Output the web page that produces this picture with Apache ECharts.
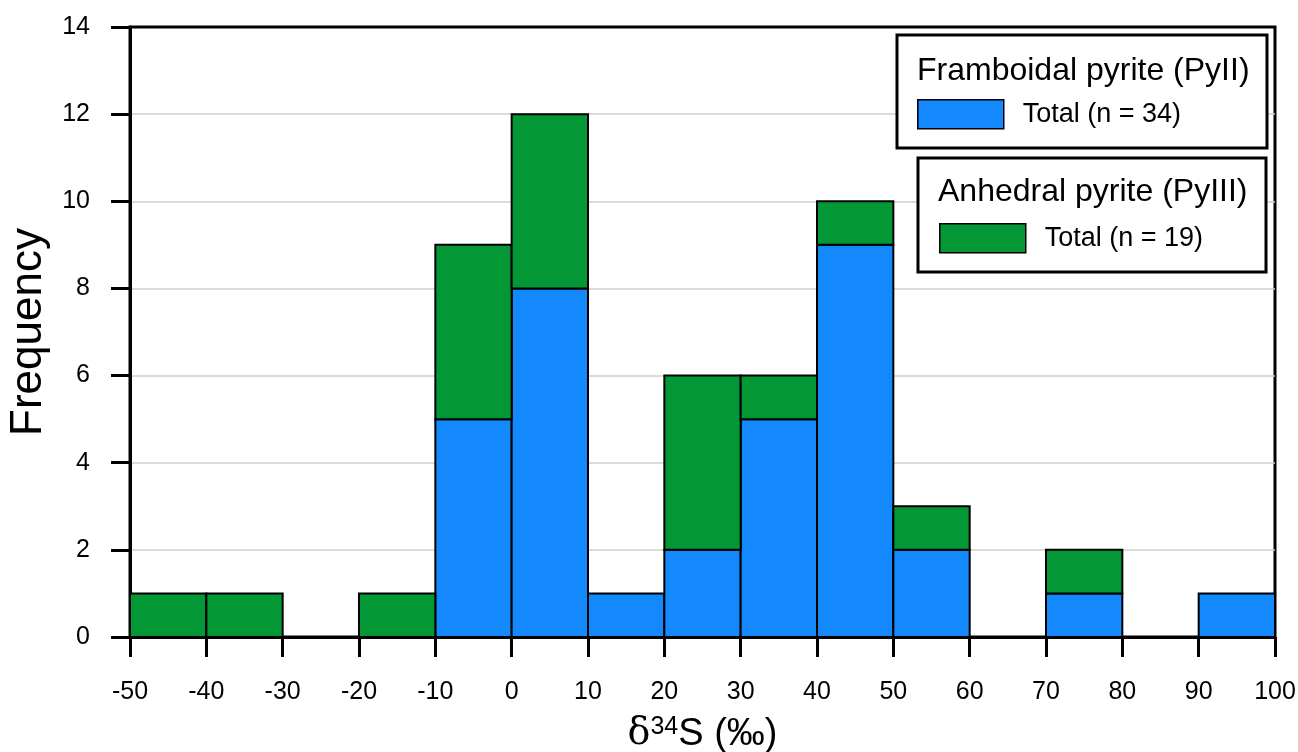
<!DOCTYPE html>
<html>
<head>
<meta charset="utf-8">
<script src="https://cdn.jsdelivr.net/npm/echarts@6/dist/echarts.min.js"></script>
<style>
  html, body { margin: 0; padding: 0; background: #fff; }
  #chart { width: 1298px; height: 752px; }
</style>
</head>
<body>
<div id="chart"></div>
<script>
// bin lower edges, bin width 10 ‰
const binStart = [-50, -40, -30, -20, -10, 0, 10, 20, 30, 40, 50, 60, 70, 80, 90]
const binWidth = 10
const framboidal = [0, 0, 0, 0, 5, 8, 1, 2, 5, 9, 2, 0, 1, 0, 1]   // PyII
const anhedral = [1, 1, 0, 1, 4, 4, 0, 4, 1, 1, 1, 0, 1, 0, 0]     // PyIII
const yTicks = [0, 2, 4, 6, 8, 10, 12, 14]

const blue = '#1488fd'
const green = '#049735'
const font = 'Liberation Sans, Arial, sans-serif'

// [x0, x1, base, top]
const pyIIData = binStart.map((x, i) => [x, x + binWidth, 0, framboidal[i]])
const pyIIIData = binStart.map((x, i) => [x, x + binWidth, framboidal[i], framboidal[i] + anhedral[i]])

function renderBin(params, api) {
  const x0 = api.value(0)
  const x1 = api.value(1)
  const b = api.value(2)
  const t = api.value(3)
  if (t <= b) return
  const p0 = api.coord([x0, t])
  const p1 = api.coord([x1, b])
  return {
    type: 'rect',
    shape: { x: p0[0], y: p0[1], width: p1[0] - p0[0], height: p1[1] - p0[1] },
    style: api.style({ stroke: '#000', lineWidth: 2 })
  }
}

const chart = echarts.init(document.getElementById('chart'))
chart.setOption({
  animation: false,
  textStyle: { fontFamily: font },
  grid: {
    left: 130, right: 23, top: 27, bottom: 115,
    containLabel: false,
    outerBoundsMode: 'none',
    show: true, borderColor: '#000', borderWidth: 3, backgroundColor: 'transparent'
  },
  xAxis: {
    type: 'value',
    min: -50, max: 100, interval: 10,
    axisLine: { show: true, onZero: false, lineStyle: { color: '#000', width: 3 } },
    axisTick: { show: true, length: 20, lineStyle: { color: '#000', width: 3 } },
    axisLabel: { color: '#000', fontSize: 25, margin: 43, fontFamily: font },
    splitLine: { show: false },
    name: '{d|δ}{sup|34}{s|S (‰)}',
    nameLocation: 'middle',
    nameGap: 78,
    nameTextStyle: {
      rich: {
        d: { fontSize: 38, fontFamily: 'DejaVu Serif, serif', color: '#000' },
        sup: { fontSize: 25, color: '#000', fontFamily: font, verticalAlign: 'top', padding: [0, 0, 14, 0] },
        s: { fontSize: 38, color: '#000', fontFamily: font }
      }
    }
  },
  yAxis: {
    type: 'value',
    min: 0, max: 14, interval: 2,
    axisLine: { show: true, onZero: false, lineStyle: { color: '#000', width: 3 } },
    axisTick: { show: true, length: 19, lineStyle: { color: '#000', width: 3 } },
    axisLabel: {
      color: '#000', fontSize: 25, margin: 40, fontFamily: font,
      formatter: v => yTicks.includes(v) ? String(v) : ''
    },
    splitLine: { show: true, showMinLine: false, showMaxLine: false, lineStyle: { color: '#cfcfcf', width: 1.5 } },
    name: 'Frequency',
    nameLocation: 'middle',
    nameGap: 79,
    nameTextStyle: { fontSize: 44, color: '#000', fontFamily: font }
  },
  legend: [
    {
      data: [{ name: 'Total (n = 34)', icon: 'rect' }],
      left: 917, top: 99, padding: 0, z: 10,
      itemWidth: 86, itemHeight: 29,
      itemStyle: { borderColor: '#000', borderWidth: 1.5 },
      textStyle: { fontSize: 27, color: '#000', fontFamily: font, padding: [0, 0, 0, 14] },
      selectedMode: false
    },
    {
      data: [{ name: 'Total (n = 19)', icon: 'rect' }],
      left: 939, top: 223, padding: 0, z: 10,
      itemWidth: 86, itemHeight: 29,
      itemStyle: { borderColor: '#000', borderWidth: 1.5 },
      textStyle: { fontSize: 27, color: '#000', fontFamily: font, padding: [0, 0, 0, 14] },
      selectedMode: false
    }
  ],
  graphic: [
    {
      type: 'rect', z: 3,
      shape: { x: 897, y: 35, width: 370, height: 113 },
      style: { fill: '#fff', stroke: '#000', lineWidth: 3 }
    },
    {
      type: 'text', z: 11, left: 917, top: 55,
      style: { text: 'Framboidal pyrite (PyII)', fontSize: 32, fill: '#000', fontFamily: font }
    },
    {
      type: 'rect', z: 3,
      shape: { x: 918, y: 158, width: 348, height: 114 },
      style: { fill: '#fff', stroke: '#000', lineWidth: 3 }
    },
    {
      type: 'text', z: 11, left: 938, top: 176,
      style: { text: 'Anhedral pyrite (PyIII)', fontSize: 32, fill: '#000', fontFamily: font }
    }
  ],
  series: [
    {
      name: 'Total (n = 34)',
      type: 'custom',
      renderItem: renderBin,
      itemStyle: { color: blue },
      encode: { x: [0, 1], y: [2, 3] },
      data: pyIIData,
      z: 2
    },
    {
      name: 'Total (n = 19)',
      type: 'custom',
      renderItem: renderBin,
      itemStyle: { color: green },
      encode: { x: [0, 1], y: [2, 3] },
      data: pyIIIData,
      z: 2
    }
  ]
})
</script>
</body>
</html>
